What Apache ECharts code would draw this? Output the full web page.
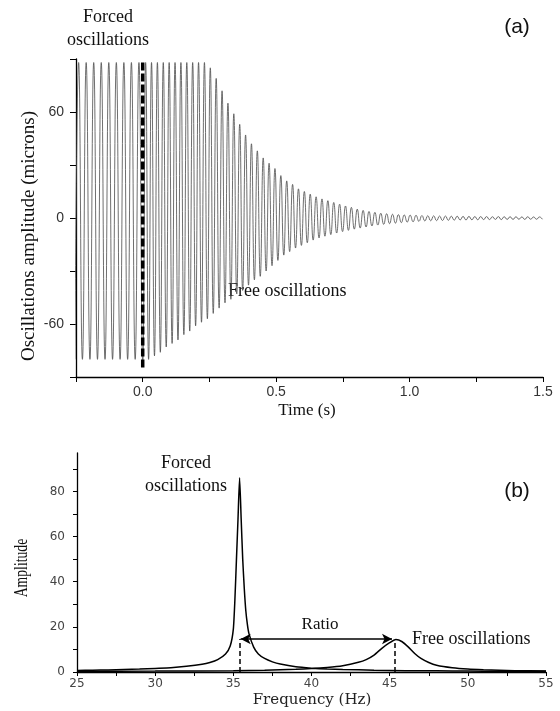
<!DOCTYPE html>
<html>
<head>
<meta charset="utf-8">
<script src="https://cdn.jsdelivr.net/npm/echarts@6/dist/echarts.min.js"></script>
<style>html,body{margin:0;padding:0;background:#fff}#c{width:560px;height:711px}</style>
</head>
<body>
<div id="c"></div>
<script>
// ---------- Panel (a): time signal, peak/trough amplitudes read per half-cycle ----------
const forcedFreqHz = 35.4;   // forced oscillation frequency
const freeFreqHz = 45.4;     // free oscillation frequency
// forced regime (t < 0), earliest first
const forcedTroughs = [-80, -80, -80, -80, -80, -80, -80, -80, -80];
const forcedPeaks   = [88, 88, 88, 88, 88, 88, 88, 88, 88];
// free regime (t >= 0): troughs start at t = 0, peaks half a period later
const freeTroughs = [-82, -80, -78, -76, -73, -71, -69, -66, -64, -61, -59, -57, -54, -51, -48, -46, -43, -41, -38, -35,
  -33, -30, -27, -24, -21, -19, -17, -15.5, -14, -12.5, -11.3, -10.3, -9.4, -8.5, -7.7, -7, -6.3, -5.7, -5.1, -4.5,
  -4, -3.6, -3.2, -2.9, -2.6, -2.3, -2.1, -1.9, -1.7, -1.6, -1.5, -1.4, -1.3, -1.2, -1.1, -1.1, -1.0, -1.0, -0.9, -0.9,
  -0.8, -0.9, -0.8, -0.8, -0.7, -0.8, -0.7, -0.7, -0.7];
const freePeaks = [88, 88, 88, 88, 88, 88, 88, 88, 88, 88, 88, 85, 79, 72, 65, 59, 53, 47, 42, 38,
  34, 31, 28, 24, 21, 19, 16.5, 15, 13.5, 12, 10.8, 9.8, 8.8, 7.8, 6.8, 6, 5, 4.3, 3.7, 3.2,
  2.7, 2.4, 2.1, 1.9, 1.7, 1.6, 1.5, 1.4, 1.3, 1.2, 1.1, 1.1, 1.0, 1.0, 0.9, 0.9, 0.8, 0.8, 0.8, 0.7,
  0.8, 0.7, 0.7, 0.7, 0.6, 0.7, 0.6, 0.6];
const markerLine = [[0, 88], [0, -86]];  // dashed line at t = 0
const timeTicks = [0, 0.5, 1.0, 1.5];
const ampTicks = [-60, 0, 60];

// ---------- Panel (b): spectra ----------
const forcedSpecFreq = [25, 26, 27, 28, 29, 30, 31, 32, 33, 33.5, 34, 34.5, 34.8, 35.0, 35.1, 35.2, 35.3, 35.4, 35.5, 35.6, 35.7, 35.8, 35.9, 36, 36.3, 36.6, 37, 37.5, 38, 39, 40, 41, 42, 44, 46, 48, 50, 52, 55];
const forcedSpecAmp  = [0.7, 0.8, 0.9, 1.1, 1.3, 1.6, 1.9, 2.5, 3.4, 4.2, 5.5, 8, 11.5, 19, 32, 50, 68, 86, 68, 50, 37, 27, 21, 17, 11, 8, 6, 4.5, 3.5, 2.3, 1.7, 1.3, 1.1, 0.8, 0.6, 0.5, 0.4, 0.35, 0.3];
const freeSpecFreq = [25, 30, 35, 37, 38, 39, 40, 41, 42, 43, 43.5, 44, 44.5, 45, 45.4, 45.8, 46.2, 46.6, 47, 47.5, 48, 49, 50, 51, 52, 53, 55];
const freeSpecAmp  = [0.3, 0.4, 0.6, 0.8, 1.0, 1.2, 1.5, 2.0, 2.8, 4.3, 5.5, 7.5, 10.5, 13, 14.4, 13.4, 11, 8.2, 6, 4.2, 3, 1.9, 1.3, 1.0, 0.8, 0.6, 0.4];
const forcedPeakFreq = 35.42, freePeakFreq = 45.35, ratioLevel = 14.6;
const specXTicks = [25, 30, 35, 40, 45, 50, 55];
const specYTicks = [0, 20, 40, 60, 80];

// build time series from per-half-cycle readings
const Tf = 1 / forcedFreqHz, Tr = 1 / freeFreqHz;
const signal = [];
const nF = forcedPeaks.length;
for (let i = 0; i < nF; i++) {
  signal.push([-(nF - i) * Tf, forcedTroughs[i]]);
  signal.push([-(nF - i - 0.5) * Tf, forcedPeaks[i]]);
}
for (let k = 0; k < freeTroughs.length; k++) {
  signal.push([k * Tr, freeTroughs[k]]);
  if (k < freePeaks.length) signal.push([(k + 0.5) * Tr, freePeaks[k]]);
}
const zip = (a, b) => a.map((v, i) => [v, b[i]]);

const sans = '"Liberation Sans", Arial, sans-serif';
const serif = '"Liberation Serif", "Times New Roman", serif';
const axisLine = { show: true, onZero: false, lineStyle: { color: '#000', width: 1.3 } };

const chart = echarts.init(document.getElementById('c'), null, { renderer: 'canvas' });
chart.setOption({
  animation: false,
  backgroundColor: '#fff',
  grid: [
    { left: 76, right: 17, top: 59, height: 318 },
    { left: 77, right: 14, top: 453, height: 219 }
  ],
  xAxis: [
    { type: 'value', gridIndex: 0, min: -0.25, max: 1.5, interval: 0.25,
      axisLine, splitLine: { show: false },
      axisTick: { show: true, inside: false, length: 5, lineStyle: { color: '#000' } },
      axisLabel: { margin: 8, color: '#333', fontFamily: sans, fontSize: 14,
        formatter: v => timeTicks.some(t => Math.abs(t - v) < 1e-6) ? v.toFixed(1) : '' } },
    { type: 'value', gridIndex: 1, min: 25, max: 55, interval: 2.5,
      axisLine, splitLine: { show: false },
      axisTick: { show: true, inside: false, length: 4, lineStyle: { color: '#000' } },
      axisLabel: { margin: 6, color: '#444', fontFamily: '"DejaVu Sans", sans-serif', fontSize: 12,
        formatter: v => specXTicks.includes(v) ? String(v) : '' } }
  ],
  yAxis: [
    { type: 'value', gridIndex: 0, min: -90, max: 90, interval: 30,
      axisLine, splitLine: { show: false },
      axisTick: { show: true, inside: false, length: 6, lineStyle: { color: '#000' } },
      axisLabel: { margin: 12, color: '#333', fontFamily: sans, fontSize: 14,
        formatter: v => ampTicks.includes(v) ? String(v) : '' } },
    { type: 'value', gridIndex: 1, min: 0, max: 97, interval: 10,
      axisLine, splitLine: { show: false },
      axisTick: { show: true, inside: false, length: 4, lineStyle: { color: '#000' },
        customValues: [0, 10, 20, 30, 40, 50, 60, 70, 80, 90] },
      axisLabel: { margin: 12, color: '#444', fontFamily: '"DejaVu Sans", sans-serif', fontSize: 12,
        customValues: specYTicks,
        formatter: v => specYTicks.includes(v) ? String(v) : '' } }
  ],
  series: [
    { type: 'line', xAxisIndex: 0, yAxisIndex: 0, data: signal, showSymbol: false, smooth: 0.5,
      clip: true, lineStyle: { color: '#4a4a4a', width: 0.8 } },
    { type: 'line', xAxisIndex: 0, yAxisIndex: 0, data: markerLine, showSymbol: false,
      lineStyle: { color: '#000', width: 3.5, type: [8, 3] } },
    { type: 'line', xAxisIndex: 1, yAxisIndex: 1, data: zip(forcedSpecFreq, forcedSpecAmp), showSymbol: false, smooth: 0.2,
      lineStyle: { color: '#000', width: 1.5 },
      markLine: { silent: true, symbol: 'none', label: { show: false },
        lineStyle: { color: '#000', width: 1.5, type: [5, 3] },
        data: [
          [{ coord: [forcedPeakFreq, 0] }, { coord: [forcedPeakFreq, ratioLevel] }],
          [{ coord: [freePeakFreq, 0] }, { coord: [freePeakFreq, ratioLevel - 0.8] }]
        ] } },
    { type: 'line', xAxisIndex: 1, yAxisIndex: 1, data: zip(freeSpecFreq, freeSpecAmp), showSymbol: false, smooth: 0.2,
      lineStyle: { color: '#000', width: 1.5 },
      markLine: { silent: true, symbol: ['arrow', 'arrow'], symbolSize: [8, 10], label: { show: false },
        lineStyle: { color: '#000', width: 1.5, type: 'solid' },
        data: [
          [{ coord: [forcedPeakFreq + 0.05, ratioLevel] }, { coord: [freePeakFreq - 0.2, ratioLevel] }]
        ] } }
  ],
  graphic: [
    { type: 'text', x: 108, y: 17, style: { text: 'Forced', font: '18px ' + serif, fill: '#111', textAlign: 'center', textVerticalAlign: 'middle' } },
    { type: 'text', x: 108, y: 40, style: { text: 'oscillations', font: '18px ' + serif, fill: '#111', textAlign: 'center', textVerticalAlign: 'middle' } },
    { type: 'text', x: 517, y: 27, style: { text: '(a)', font: '21px ' + sans, fill: '#111', textAlign: 'center', textVerticalAlign: 'middle' } },
    { type: 'text', x: 228, y: 291, style: { text: 'Free oscillations', font: '18px ' + serif, fill: '#111', textAlign: 'left', textVerticalAlign: 'middle' } },
    { type: 'text', x: 307, y: 411, style: { text: 'Time (s)', font: '17px ' + serif, fill: '#111', textAlign: 'center', textVerticalAlign: 'middle' } },
    { type: 'text', x: 29, y: 236, rotation: Math.PI / 2, style: { text: 'Oscillations amplitude (microns)', font: '19px ' + serif, fill: '#111', textAlign: 'center', textVerticalAlign: 'middle' } },
    { type: 'text', x: 186, y: 463, style: { text: 'Forced', font: '18px ' + serif, fill: '#111', textAlign: 'center', textVerticalAlign: 'middle' } },
    { type: 'text', x: 186, y: 486, style: { text: 'oscillations', font: '18px ' + serif, fill: '#111', textAlign: 'center', textVerticalAlign: 'middle' } },
    { type: 'text', x: 517, y: 491, style: { text: '(b)', font: '21px ' + sans, fill: '#111', textAlign: 'center', textVerticalAlign: 'middle' } },
    { type: 'text', x: 320, y: 625, style: { text: 'Ratio', font: '17px ' + serif, fill: '#111', textAlign: 'center', textVerticalAlign: 'middle' } },
    { type: 'text', x: 412, y: 639, style: { text: 'Free oscillations', font: '18px ' + serif, fill: '#111', textAlign: 'left', textVerticalAlign: 'middle' } },
    { type: 'text', x: 312, y: 700, style: { text: 'Frequency (Hz)', font: '15px "DejaVu Serif", serif', fill: '#222', textAlign: 'center', textVerticalAlign: 'middle' } },
    { type: 'text', x: 22, y: 568, rotation: Math.PI / 2, scaleX: 0.72, style: { text: 'Amplitude', font: '19px ' + serif, fill: '#111', textAlign: 'center', textVerticalAlign: 'middle' } }
  ]
});
</script>
</body>
</html>
